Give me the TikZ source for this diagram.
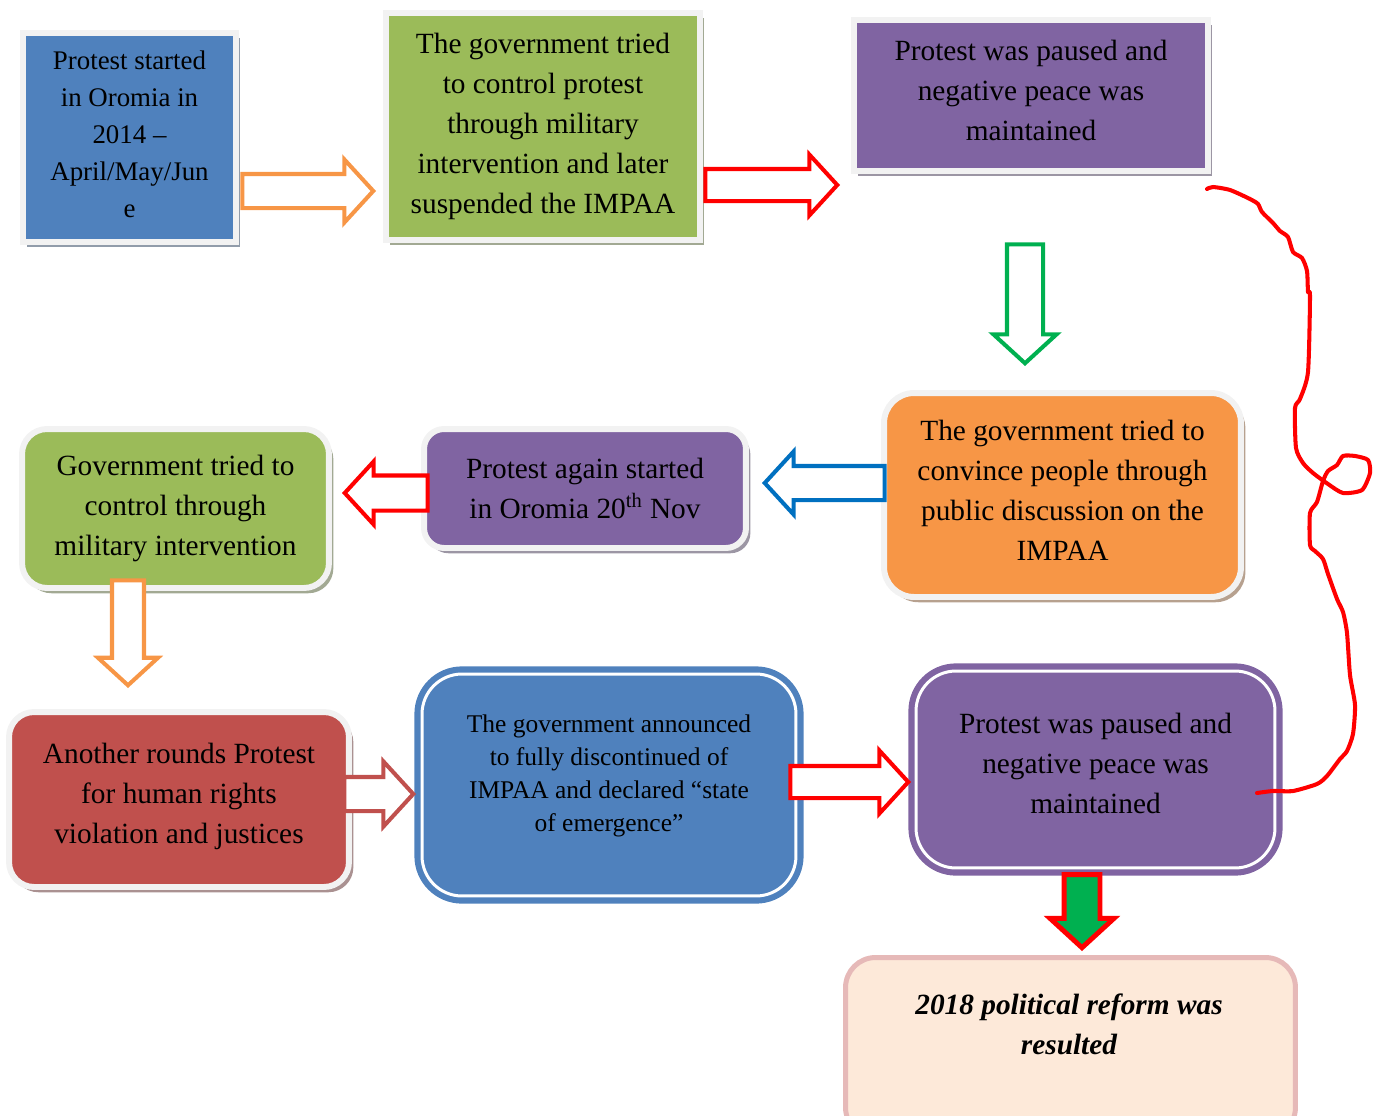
\documentclass[tikz,border=0pt]{standalone}
\usepackage{fontspec}
\setmainfont{Liberation Serif}
\usetikzlibrary{shapes.arrows,shadows}
\definecolor{boxblue}{HTML}{4F81BD}
\definecolor{boxgreen}{HTML}{9BBB59}
\definecolor{boxpurple}{HTML}{8064A2}
\definecolor{boxorange}{HTML}{F79646}
\definecolor{boxred}{HTML}{C0504D}
\definecolor{framegray}{HTML}{F2F2F2}
\definecolor{arrred}{HTML}{FF0000}
\definecolor{arrgreen}{HTML}{00B050}
\definecolor{arrblue}{HTML}{0070C0}
\definecolor{reformfill}{HTML}{FDE9D9}
\definecolor{reformline}{HTML}{E6B9B8}
\tikzset{
  sqbox/.style={fill=#1, draw=framegray, line width=3.4pt, inner sep=0pt, align=center,
    font=\fontsize{16.7}{22.8}\selectfont,
    drop shadow={shadow xshift=2.5pt, shadow yshift=-3pt, fill=#1!45!black, opacity=0.5}},
  rndbox/.style={sqbox=#1, rounded corners=0.5cm},
  dblbox/.style={fill=#1, draw=#1, double=white, double distance=1.7pt, line width=3.5pt,
    rounded corners=0.8cm, inner sep=0pt, align=center, font=\fontsize{16.7}{22.8}\selectfont},
  blockarr/.style={single arrow, draw=#1, fill=white, line width=2.3pt, inner xsep=0pt,
    minimum width=0pt, single arrow tip angle=95, anchor=tip},
  downarr/.style={blockarr=#1, shape border rotate=270, inner ysep=0pt}
}
\begin{document}
\begin{tikzpicture}[x=0.02cm, y=-0.02cm]
\useasboundingbox (0, 0) rectangle (1380, 1116);

\node (start) at (129.5, 137.5) [sqbox=boxblue, minimum width=4.26cm, minimum height=4.18cm,
  font=\fontsize{15.3}{21}\selectfont, text depth=4pt] {Protest started\\in Oromia in\\2014 –\\April/May/Jun\\e};
\node (suspend) at (543, 126.5) [sqbox=boxgreen, minimum width=6.28cm, minimum height=4.54cm]
  {The government tried\\to control protest\\through military\\intervention and later\\suspended the IMPAA};
\node (pause1) at (1031, 95.5) [sqbox=boxpurple, minimum width=7.08cm, minimum height=3.02cm, text depth=6pt]
  {Protest was paused and\\negative peace was\\maintained};

\node (discuss) at (1062.5, 495) [rndbox=boxorange, rounded corners=0.6cm, minimum width=7.14cm, minimum height=4.08cm, text depth=5pt]
  {The government tried to\\convince people through\\public discussion on the\\IMPAA};
\node (again) at (585, 488.5) [rndbox=boxpurple, rounded corners=0.4cm, minimum width=6.44cm, minimum height=2.38cm]
  {Protest again started\\in Oromia 20\textsuperscript{th} Nov};
\node (military) at (175.5, 508.5) [rndbox=boxgreen, minimum width=6.14cm, minimum height=3.18cm]
  {Government tried to\\control through\\military intervention};

\node (rights) at (179, 799.5) [rndbox=boxred, minimum width=6.8cm, minimum height=3.5cm, text depth=7pt]
  {Another rounds Protest\\for human rights\\violation and justices};
\node (emergency) at (609, 785) [dblbox=boxblue, minimum width=7.48cm, minimum height=4.44cm,
  font=\fontsize{14.5}{18.8}\selectfont, text depth=13pt]
  {The government announced\\to fully discontinued of\\IMPAA and declared “state\\of emergence”};
\node (pause2) at (1095.5, 769.5) [dblbox=boxpurple, minimum width=7.18cm, minimum height=3.94cm, text depth=7pt]
  {Protest was paused and\\negative peace was\\maintained};

\node (reform) at (1070.5, 1047.5) [fill=reformfill, draw=reformline, line width=2.85pt, rounded corners=0.6cm,
  minimum width=9cm, minimum height=3.6cm] {};
\node (reformtext) at (1069, 1024) [align=center, font=\fontsize{16.7}{22.8}\selectfont\bfseries\itshape]
  {2018 political reform was\\resulted};

\node (a1) at (376, 191) [blockarr=boxorange, minimum height=2.62cm, inner ysep=0.3cm, single arrow head extend=0.29cm] {};
\node (a2) at (840, 185) [blockarr=arrred, minimum height=2.64cm, inner ysep=0.28cm, single arrow head extend=0.29cm] {};
\node (a3) at (1025, 366) [downarr=arrgreen, minimum height=2.38cm, inner xsep=0.32cm, single arrow head extend=0.27cm] {};
\node (a4) at (762, 483) [blockarr=arrblue, shape border rotate=180, minimum height=2.4cm, inner ysep=0.3cm, single arrow head extend=0.29cm] {};
\node (a5) at (342, 493) [blockarr=arrred, shape border rotate=180, minimum height=1.66cm, inner ysep=0.31cm, single arrow head extend=0.28cm] {};
\node (a6) at (128, 688) [downarr=boxorange, minimum height=2.1cm, inner xsep=0.28cm, single arrow head extend=0.28cm] {};
\node (a7) at (416, 794) [blockarr=boxred, minimum height=1.38cm, inner ysep=0.3cm, single arrow head extend=0.31cm] {};
\node (a8) at (911, 782) [blockarr=arrred, minimum height=2.36cm, inner ysep=0.28cm, single arrow head extend=0.31cm] {};
\node (a9) at (1082, 951) [downarr=arrred, fill=arrgreen, line width=2.8pt, minimum height=1.46cm, inner xsep=0.31cm, single arrow head extend=0.28cm] {};

\coordinate (squigA) at (1207, 189);
\coordinate (squigB) at (1257, 793);
\draw[arrred, line width=2.3pt, line join=round, line cap=round] plot[smooth, tension=0.4] coordinates {
  (squigA) (1213, 187) (1230, 190) (1250, 199) (1258, 204) (1262, 212) (1273, 223) (1280, 231)
  (1288, 237) (1293, 252) (1302, 258) (1307, 271) (1308, 292) (1310, 296) (1308, 372) (1300, 399)
  (1295, 408) (1296, 448) (1303, 463) (1313, 473) (1328, 484) (1343, 493) (1362, 490) (1370, 473)
  (1368, 460) (1355, 456) (1343, 456) (1337, 465) (1328, 471) (1323, 481) (1317, 502) (1310, 513)
  (1310, 545) (1315, 551) (1323, 559) (1328, 574) (1337, 599) (1343, 612) (1347, 633) (1350, 675)
  (1355, 705) (1353, 734) (1347, 751) (1340, 759) (1327, 776) (1317, 784) (1293, 791) (1273, 791)
  (squigB)};
\end{tikzpicture}
\end{document}
